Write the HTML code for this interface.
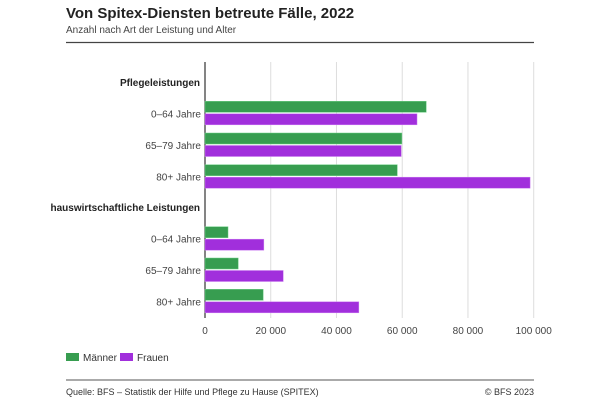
<!DOCTYPE html>
<html><head><meta charset="utf-8"><style>
body{margin:0;background:#fff;font-family:"Liberation Sans",sans-serif;}
svg text{font-family:"Liberation Sans",sans-serif;}
</style></head><body>
<svg width="600" height="400" xmlns="http://www.w3.org/2000/svg">
<text x="66" y="18" font-size="15" font-weight="bold" fill="#222">Von Spitex-Diensten betreute Fälle, 2022</text>
<text x="66" y="33" font-size="10" fill="#444">Anzahl nach Art der Leistung und Alter</text>
<line x1="66" y1="42.5" x2="534" y2="42.5" stroke="#444" stroke-width="1.2"/>
<g id="grid"></g>
<g id="bars"></g>
<g id="labels"></g>
<rect x="66" y="353" width="13" height="8" fill="#379d50"/>
<text x="83" y="361" font-size="10" fill="#333">Männer</text>
<rect x="120" y="353" width="13" height="8" fill="#a12fdc"/>
<text x="137" y="361" font-size="10" fill="#333">Frauen</text>
<line x1="66" y1="380" x2="534" y2="380" stroke="#555" stroke-width="1"/>
<text x="66" y="395" font-size="9" fill="#333">Quelle: BFS – Statistik der Hilfe und Pflege zu Hause (SPITEX)</text>
<text x="534" y="395" font-size="9" fill="#333" text-anchor="end">© BFS 2023</text>
</svg>
<script>
const categories=["0–64 Jahre","65–79 Jahre","80+ Jahre","0–64 Jahre","65–79 Jahre","80+ Jahre"];
const groups=["Pflegeleistungen","hauswirtschaftliche Leistungen"];
const maenner=[67300,59900,58500,7000,10100,17700];
const frauen=[64500,59700,98900,17900,23800,46800];
const ticks=[0,20000,40000,60000,80000,100000];
const tickLabels=["0","20 000","40 000","60 000","80 000","100 000"];
const NS="http://www.w3.org/2000/svg";
const x0=205,x1=533.7,maxV=100000;
const xs=v=>x0+(x1-x0)*v/maxV;
const rowY=i=>i<3?101.3+i*31.7:226.7+(i-3)*31.3;
function mk(tag,attrs,parent){const e=document.createElementNS(NS,tag);for(const k in attrs)e.setAttribute(k,attrs[k]);document.getElementById(parent).appendChild(e);return e;}
ticks.forEach((t,i)=>{
 const l=mk("line",{x1:xs(t),x2:xs(t),y1:62,y2:318,stroke:i===0?"#333":"#ddd","stroke-width":i===0?1.2:1},"grid");
 
 
 const tx=mk("text",{x:xs(t),y:334,"font-size":10,fill:"#444","text-anchor":i===ticks.length-1?"middle":"middle"},"grid");
 tx.textContent=tickLabels[i];
 
 
});
groups.forEach((g,i)=>{
 const t=mk("text",{x:200,y:i===0?86:211,"font-size":10,"font-weight":"bold",fill:"#222","text-anchor":"end"},"labels");
 t.textContent=g;
 
 
});
categories.forEach((c,i)=>{
 const y=rowY(i);
 const m=mk("rect",{x:x0,y:y,width:xs(maenner[i])-x0,height:11,fill:"#379d50",stroke:"#6fcf85","stroke-width":0.5},"bars");
 
 
 const f=mk("rect",{x:x0,y:y+12.5,width:xs(frauen[i])-x0,height:11,fill:"#a12fdc",stroke:"#c97bf0","stroke-width":0.5},"bars");
 
 
 const t=mk("text",{x:201,y:y+16,"font-size":10,fill:"#444","text-anchor":"end"},"labels");
 t.textContent=c;
 
 
});
</script>
</body></html>
